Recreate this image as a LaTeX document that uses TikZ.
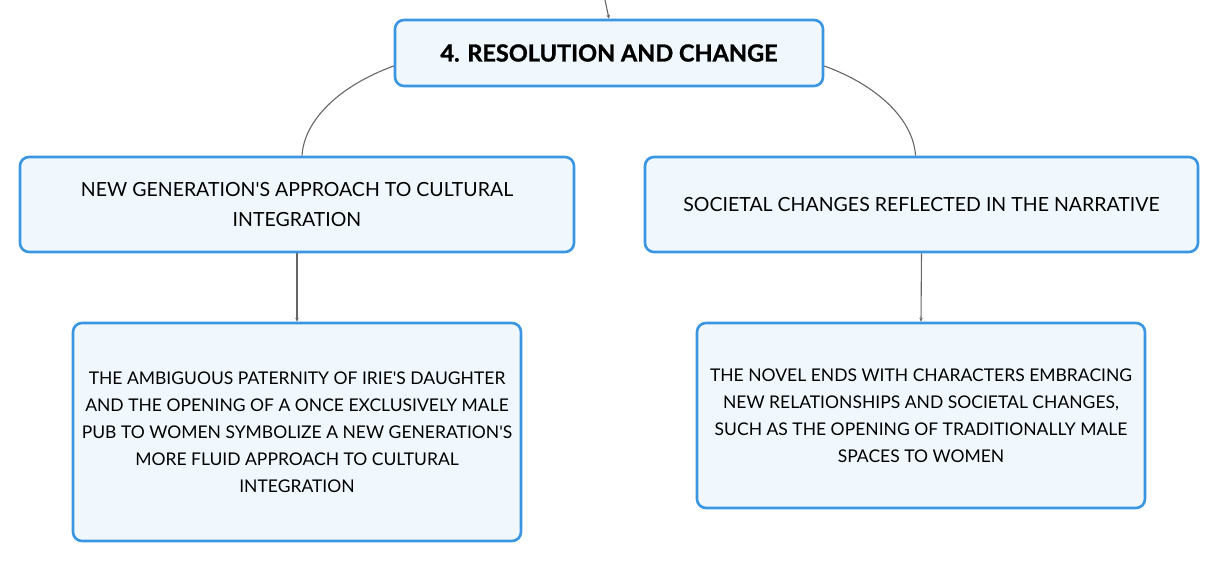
\documentclass[tikz,border=0pt]{standalone}
\usepackage{fontspec}
\setmainfont{Lato}[Ligatures=TeXOff]
\newfontfamily\titlefont{Lato}[Ligatures=TeXOff, BoldFeatures={FakeBold=1.2}]
\usetikzlibrary{arrows.meta,calc}
\definecolor{boxborder}{HTML}{3A95E2}
\definecolor{boxfill}{HTML}{F0F8FE}
\definecolor{linkgray}{HTML}{666666}
\tikzset{
  x=1pt,y=1pt,
  mapbox/.style={draw=boxborder, line width=2.6pt, fill=boxfill, rounded corners=9pt,
    align=center, inner sep=0pt, text=black},
  rootbox/.style={mapbox, font=\titlefont\fontsize{23.5}{28}\selectfont\bfseries},
  midbox/.style={mapbox, font=\fontsize{19.5}{30}\selectfont},
  leafbox/.style={mapbox, font=\fontsize{17.5}{27}\selectfont},
  link/.style={draw=linkgray, line width=1.1pt},
  linkarrow/.style={link, -{Stealth[length=4pt,width=3.5pt]}}
}
\begin{document}
\begin{tikzpicture}
\useasboundingbox (0,0) rectangle (1219,562);
\coordinate (topin) at (605,562);
\node[rootbox, minimum width=428, minimum height=66] (root) at (609,509) {4. RESOLUTION AND CHANGE};
\node[midbox, minimum width=554, minimum height=95] (lmid) at (297,357.5) {NEW GENERATION'S APPROACH TO CULTURAL\\INTEGRATION};
\node[midbox, minimum width=553, minimum height=95] (rmid) at (921.5,357.5) {SOCIETAL CHANGES REFLECTED IN THE NARRATIVE};
\node[leafbox, minimum width=448, minimum height=218] (lleaf) at (297,130) {THE AMBIGUOUS PATERNITY OF IRIE'S DAUGHTER\\AND THE OPENING OF A ONCE EXCLUSIVELY MALE\\PUB TO WOMEN SYMBOLIZE A NEW GENERATION'S\\MORE FLUID APPROACH TO CULTURAL\\INTEGRATION};
\node[leafbox, minimum width=448, minimum height=185] (rleaf) at (921,146.5) {THE NOVEL ENDS WITH CHARACTERS EMBRACING\\NEW RELATIONSHIPS AND SOCIETAL CHANGES,\\SUCH AS THE OPENING OF TRADITIONALLY MALE\\SPACES TO WOMEN};
\draw[linkarrow] (topin) -- (root.north);
\draw[link] ($(root.west)+(0,-13)$) .. controls +(-55,-20) and +(2,35) .. ($(lmid.north)+(5,0)$);
\draw[link] ($(root.east)+(0,-13)$) .. controls +(55,-20) and +(-2,35) .. ($(rmid.north)+(-6,0)$);
\draw[linkarrow] (lmid.south) -- (lleaf.north);
\draw[linkarrow] (rmid.south) -- (rleaf.north);
\end{tikzpicture}
\end{document}
